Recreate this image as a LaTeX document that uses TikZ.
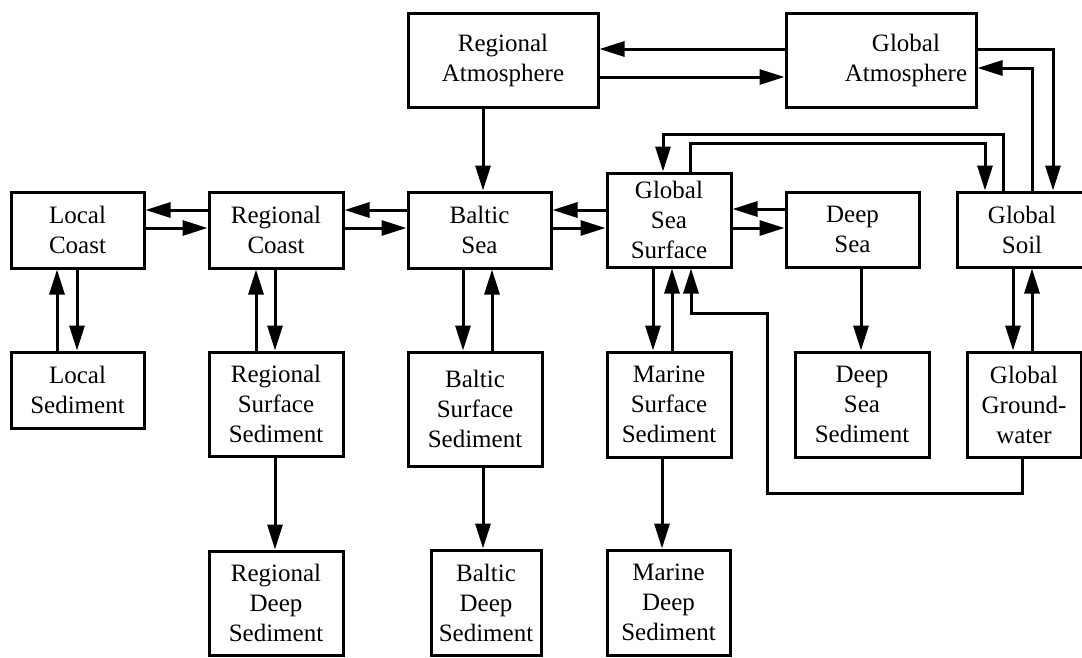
\documentclass[tikz,border=0pt]{standalone}
\usepackage{fontspec}
\setmainfont{Liberation Serif}
\usepackage{tikz}
\usetikzlibrary{arrows.meta}
\tikzset{
  compbox/.style = {shape=rectangle, draw, anchor=center,
                    line width=3pt, align=center, inner sep=2pt,
                    font=\fontsize{25}{30}\selectfont},
  boxtext/.style = {align=center, inner sep=0pt,
                    font=\fontsize{25}{30}\selectfont},
  arrow/.style = {line width=3pt, -{Triangle[length=25pt,width=15pt]}}
}
\begin{document}
\begin{tikzpicture}[x=1pt, y=-1pt]
            \useasboundingbox (0,0) rectangle (1082,657);
            % top row
            \node (ra) [compbox, minimum width=190, minimum height=94] at (503,60) {Regional\\Atmosphere};
            \node (ga) [compbox, minimum width=190, minimum height=94] at (881,60) {};
            \node (gatext) [boxtext] at (906,60) {Global\\Atmosphere};
            % compartments
            \node (lc) [compbox, minimum width=133, minimum height=76] at (77.5,230) {Local\\Coast};
            \node (rc) [compbox, minimum width=134, minimum height=76] at (276,230) {Regional\\Coast};
            \node (bs) [compbox, minimum width=143, minimum height=76] at (479.5,230) {Baltic\\Sea};
            \node (gss) [compbox, minimum width=124, minimum height=94] at (669,220) {Global\\Sea\\Surface};
            \node (ds) [compbox, minimum width=133, minimum height=75] at (852.5,229.5) {Deep\\Sea};
            \node (gsoil) [compbox, minimum width=130, minimum height=75] at (1022,229.5) {Global\\Soil};
            % sediments
            \node (ls) [compbox, minimum width=133, minimum height=76] at (77.5,390) {Local\\Sediment};
            \node (rss) [compbox, minimum width=134, minimum height=104] at (276,404) {Regional\\Surface\\Sediment};
            \node (bss) [compbox, minimum width=134, minimum height=114] at (475,409) {Baltic\\Surface\\Sediment};
            \node (mss) [compbox, minimum width=124, minimum height=105] at (669,404.5) {Marine\\Surface\\Sediment};
            \node (dss) [compbox, minimum width=134, minimum height=105] at (862,404.5) {Deep\\Sea\\Sediment};
            \node (gw) [compbox, minimum width=114, minimum height=105] at (1024,404.5) {Global\\Ground-\\water};
            \node (rds) [compbox, minimum width=134, minimum height=104] at (276,603) {Regional\\Deep\\Sediment};
            \node (bds) [compbox, minimum width=110, minimum height=105] at (486,602.5) {Baltic\\Deep\\Sediment};
            \node (mds) [compbox, minimum width=123, minimum height=105] at (668.5,602.5) {Marine\\Deep\\Sediment};

            % atmosphere
            \draw [arrow] (ga.west |- 0,49) -- (ra.east |- 0,49);
            \draw [arrow] (ra.east |- 0,77) -- (ga.west |- 0,77);
            \draw [arrow] (483,0 |- ra.south) -- (483,0 |- bs.north);
            \draw [arrow] (ga.east |- 0,49) -| (1053,0 |- gsoil.north);
            \draw [arrow] (1032,0 |- gsoil.north) |- (ga.east |- 0,68);
            \draw [arrow] (1003,0 |- gsoil.north) -- (1003,134) -| (663,0 |- gss.north);
            \draw [arrow] (690,0 |- gss.north) -- (690,143) -| (985,0 |- gsoil.north);

            % horizontal exchange
            \draw [arrow] (rc.west |- 0,210) -- (lc.east |- 0,210);
            \draw [arrow] (lc.east |- 0,228) -- (rc.west |- 0,228);
            \draw [arrow] (bs.west |- 0,210) -- (rc.east |- 0,210);
            \draw [arrow] (rc.east |- 0,228) -- (bs.west |- 0,228);
            \draw [arrow] (gss.west |- 0,210) -- (bs.east |- 0,210);
            \draw [arrow] (bs.east |- 0,228) -- (gss.west |- 0,228);
            \draw [arrow] (ds.west |- 0,209) -- (gss.east |- 0,209);
            \draw [arrow] (gss.east |- 0,228) -- (ds.west |- 0,228);

            % sedimentation
            \draw [arrow] (77,0 |- lc.south) -- (77,0 |- ls.north);
            \draw [arrow] (57,0 |- ls.north) -- (57,0 |- lc.south);
            \draw [arrow] (275,0 |- rc.south) -- (275,0 |- rss.north);
            \draw [arrow] (256,0 |- rss.north) -- (256,0 |- rc.south);
            \draw [arrow] (463,0 |- bs.south) -- (463,0 |- bss.north);
            \draw [arrow] (492,0 |- bss.north) -- (492,0 |- bs.south);
            \draw [arrow] (653,0 |- gss.south) -- (653,0 |- mss.north);
            \draw [arrow] (672,0 |- mss.north) -- (672,0 |- gss.south);
            \draw [arrow] (861,0 |- ds.south) -- (861,0 |- dss.north);
            \draw [arrow] (1013,0 |- gsoil.south) -- (1013,0 |- gw.north);
            \draw [arrow] (1032,0 |- gw.north) -- (1032,0 |- gsoil.south);
            \draw [arrow] (1022,0 |- gw.south) -- (1022,493) -| (767,313) -| (691,0 |- gss.south);

            % burial
            \draw [arrow] (275,0 |- rss.south) -- (275,0 |- rds.north);
            \draw [arrow] (483,0 |- bss.south) -- (483,0 |- bds.north);
            \draw [arrow] (662,0 |- mss.south) -- (662,0 |- mds.north);
\end{tikzpicture}
\end{document}
